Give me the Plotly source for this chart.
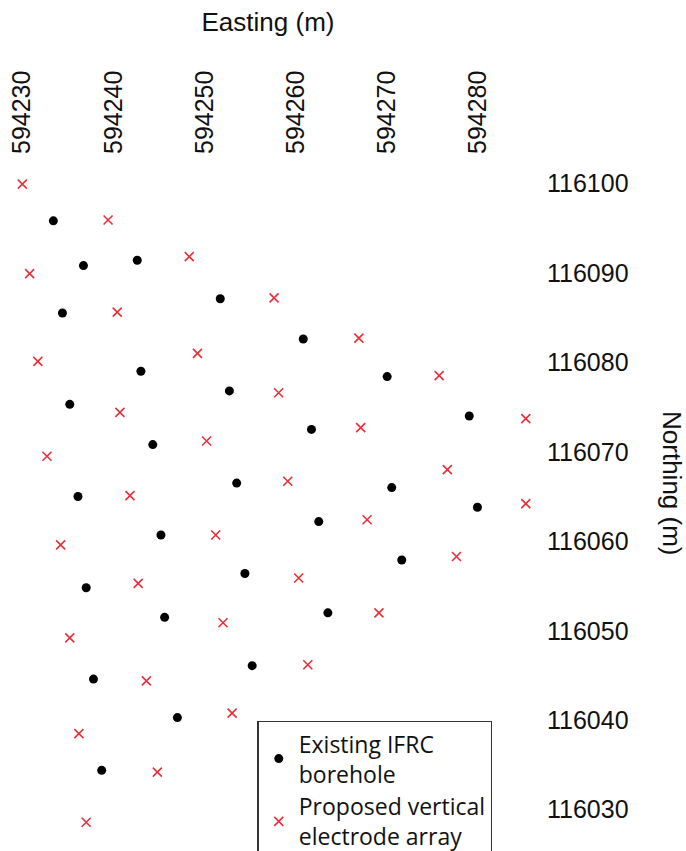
import plotly.graph_objects as go

# Existing IFRC boreholes (Easting, Northing in metres)
borehole_e = [594233.4, 594236.7, 594242.6, 594234.4, 594251.7, 594260.8, 594243.0,
              594235.2, 594252.7, 594261.7, 594244.3, 594253.5, 594236.1, 594270.0,
              594279.0, 594270.5, 594279.9, 594262.5, 594245.2, 594254.4, 594237.0,
              594263.5, 594245.6, 594255.2, 594237.8, 594247.0, 594238.7, 594271.6]
borehole_n = [116095.8, 116090.8, 116091.4, 116085.5, 116087.1, 116082.6, 116079.0,
              116075.3, 116076.8, 116072.5, 116070.8, 116066.5, 116065.0, 116078.4,
              116074.0, 116066.0, 116063.8, 116062.2, 116060.7, 116056.4, 116054.8,
              116052.0, 116051.5, 116046.1, 116044.6, 116040.3, 116034.4, 116057.9]

# Proposed vertical electrode arrays
electrode_e = [594230.0, 594239.4, 594248.3, 594230.8, 594257.6, 594240.4, 594231.7,
               594249.2, 594258.1, 594240.7, 594232.7, 594250.2, 594259.1, 594241.8,
               594266.9, 594275.7, 594267.1, 594285.2, 594276.6, 594285.2, 594251.2,
               594234.2, 594242.7, 594260.3, 594252.0, 594235.2, 594261.3, 594243.6,
               594253.0, 594236.2, 594244.8, 594237.0, 594267.8, 594277.6, 594269.1]
electrode_n = [116099.9, 116095.9, 116091.8, 116089.9, 116087.2, 116085.6, 116080.1,
               116081.0, 116076.6, 116074.4, 116069.5, 116071.2, 116066.7, 116065.1,
               116082.7, 116078.5, 116072.7, 116073.7, 116068.0, 116064.2, 116060.7,
               116059.6, 116055.3, 116055.9, 116050.9, 116049.2, 116046.2, 116044.4,
               116040.8, 116038.5, 116034.2, 116028.6, 116062.4, 116058.3, 116052.0]

easting_ticks = [594230, 594240, 594250, 594260, 594270, 594280]
northing_ticks = [116030, 116040, 116050, 116060, 116070, 116080, 116090, 116100]

AXIS_FONT = dict(family="Liberation Sans, Arial, sans-serif", size=25, color="#111")

fig = go.Figure()
fig.add_trace(go.Scatter(
    x=borehole_e, y=borehole_n, mode="markers",
    name="Existing IFRC<br>borehole",
    marker=dict(symbol="circle", size=9, color="#000000"),
))
fig.add_trace(go.Scatter(
    x=electrode_e, y=electrode_n, mode="markers",
    name="Proposed vertical<br>electrode array",
    marker=dict(symbol="x-thin", size=9, color="#e8303a",
                line=dict(color="#e8303a", width=1.6)),
))

fig.update_layout(
    width=686, height=851,
    margin=dict(l=0, r=150, t=155, b=0, autoexpand=False),
    paper_bgcolor="white", plot_bgcolor="white",
    showlegend=True,
    legend=dict(
        x=0.480, xanchor="left", y=0.1872, yanchor="top",
        bordercolor="#333333", borderwidth=1.5, bgcolor="white",
        font=dict(family="Open Sans, sans-serif", size=23, color="#111"),
        tracegroupgap=0,
    ),
    xaxis=dict(
        side="top", range=[594227.55, 594286.32],
        tickvals=easting_ticks, ticktext=[str(v) for v in easting_ticks],
        tickangle=-90, tickfont=AXIS_FONT,
        showgrid=False, zeroline=False, showline=False, ticks="",
        title=dict(text="Easting (m)", font=dict(family=AXIS_FONT["family"], size=26, color="#111"),
                   standoff=31),
    ),
    yaxis=dict(
        side="right", range=[116025.39, 116103.16],
        tickvals=northing_ticks, ticktext=[str(v) for v in northing_ticks],
        tickfont=AXIS_FONT, ticklabelstandoff=10,
        showgrid=False, zeroline=False, showline=False, ticks="",
    ),
    annotations=[dict(
        text="Northing (m)", textangle=90, showarrow=False,
        xref="paper", yref="paper", x=1, y=0.5287,
        xanchor="center", yanchor="middle", xshift=136,
        font=dict(family=AXIS_FONT["family"], size=26, color="#111"),
    )],
)

fig.write_html("out.html")
